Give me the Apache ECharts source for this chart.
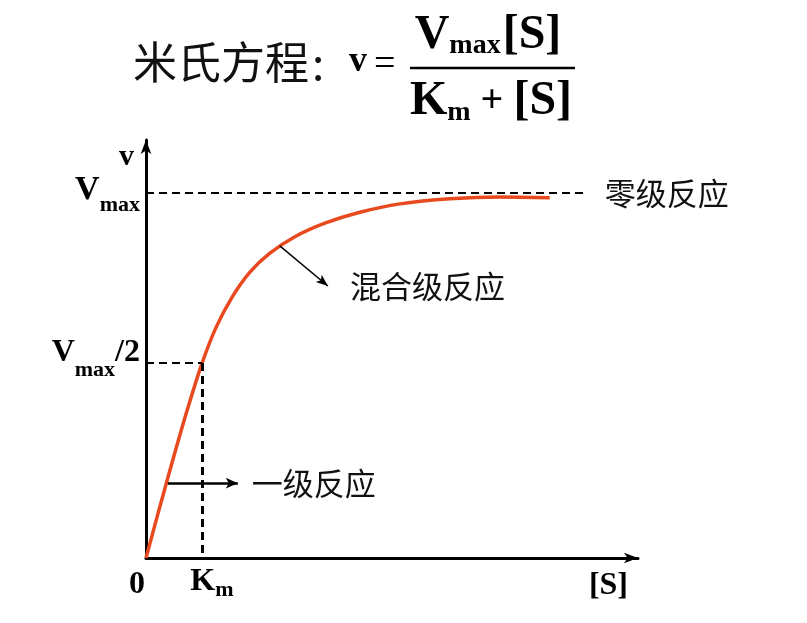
<!DOCTYPE html>
<html>
<head>
<meta charset="utf-8">
<script src="https://cdn.jsdelivr.net/npm/echarts@6/dist/echarts.min.js"></script>
<style>
  html, body { margin: 0; padding: 0; background: #fff; }
  #main { width: 807px; height: 623px; }
</style>
</head>
<body>
<div id="main"></div>
<script>
  // substrate concentration [S] (in Km units) and velocity v (in Vmax units)
  var sVals = [0, 0.25, 0.5, 0.75, 1.0, 1.25, 1.536, 1.857, 2.214, 2.661, 3.196, 3.821, 4.536, 5.429, 6.321, 7.214];
  var vVals = [0, 0.142, 0.28, 0.412, 0.533, 0.631, 0.714, 0.783, 0.835, 0.88, 0.917, 0.947, 0.97, 0.984, 0.989, 0.987];

  var vmax = 1;
  var halfV = 0.534;   // where the Vmax/2 guide is drawn
  var km = 1;
  var sMax = 8.79;
  var vAxisMax = 1.145;
  var vmaxLineEnd = 7.875;

  // annotation arrows [from, to]
  var firstOrderArrow = [[0.39, 0.205], [1.64, 0.205]];
  var mixedArrow = [[2.39, 0.855], [3.25, 0.745]];

  var serif = '"Liberation Serif", "Times New Roman", serif';
  var cjk = '"Noto Sans CJK SC", sans-serif';

  var curve = [];
  for (var i = 0; i < sVals.length; i++) {
    curve.push([sVals[i], vVals[i]]);
  }

  var dashed = { type: [8, 5], color: '#000', width: 2 };

  var myChart = echarts.init(document.getElementById('main'));
  var option = {
    backgroundColor: '#fff',
    animation: false,
    grid: { left: 146, right: 169, top: 140, bottom: 65 },
    xAxis: {
      type: 'value',
      min: 0,
      max: sMax,
      name: '[S]',
      nameLocation: 'end',
      nameGap: -10,
      nameTextStyle: {
        fontFamily: serif, fontWeight: 'bold', fontSize: 32, color: '#000',
        align: 'right', verticalAlign: 'top', padding: [12, 0, 0, 0]
      },
      splitLine: { show: false },
      axisTick: { show: false },
      axisLine: {
        onZero: false,
        symbol: ['none', 'arrow'],
        symbolSize: [8, 14],
        lineStyle: { color: '#000', width: 3 }
      },
      axisLabel: {
        customValues: [0, km],
        margin: 5,
        formatter: function (v) {
          return v === 0 ? '{z|0}' : '{k|K}{m|m}';
        },
        rich: {
          z: { fontFamily: serif, fontWeight: 'bold', fontSize: 32, color: '#000', padding: [6, 18, 0, 0] },
          k: { fontFamily: serif, fontWeight: 'bold', fontSize: 32, color: '#000', padding: [0, 0, 0, 20] },
          m: { fontFamily: serif, fontWeight: 'bold', fontSize: 22, color: '#000', padding: [16, 0, 0, 0] }
        }
      }
    },
    yAxis: {
      type: 'value',
      min: 0,
      max: vAxisMax,
      name: 'v',
      nameLocation: 'end',
      nameGap: -2,
      nameTextStyle: {
        fontFamily: serif, fontWeight: 'bold', fontSize: 30, color: '#000',
        align: 'right', verticalAlign: 'top', padding: [0, 12, 0, 0]
      },
      splitLine: { show: false },
      axisTick: { show: false },
      axisLine: {
        onZero: false,
        symbol: ['none', 'arrow'],
        symbolSize: [8, 14],
        lineStyle: { color: '#000', width: 3 }
      },
      axisLabel: {
        customValues: [halfV, vmax],
        margin: 6,
        formatter: function (v) {
          return v === vmax ? '{v|V}{s|max}' : '{v2|V}{s2|max}{h|/2}';
        },
        rich: {
          v: { fontFamily: serif, fontWeight: 'bold', fontSize: 34, color: '#000', padding: [0, 0, 6, 0] },
          s: { fontFamily: serif, fontWeight: 'bold', fontSize: 22, color: '#000', padding: [24, 0, 0, 0] },
          v2: { fontFamily: serif, fontWeight: 'bold', fontSize: 32, color: '#000', padding: [0, 0, 20, 0] },
          s2: { fontFamily: serif, fontWeight: 'bold', fontSize: 22, color: '#000', padding: [14, 0, 0, 0] },
          h: { fontFamily: serif, fontWeight: 'bold', fontSize: 32, color: '#000', padding: [0, 0, 20, 0] }
        }
      }
    },
    series: [{
      type: 'line',
      data: curve,
      smooth: 0.3,
      showSymbol: false,
      lineStyle: { color: '#E8491E', width: 3.5 },
      markLine: {
        silent: true,
        symbol: ['none', 'none'],
        data: [
          [
            { coord: [0, vmax], lineStyle: dashed,
              label: { show: true, position: 'end', formatter: '零级反应', distance: 18,
                fontFamily: cjk, fontSize: 31, color: '#111' } },
            { coord: [vmaxLineEnd, vmax] }
          ],
          [
            { coord: [0, halfV], lineStyle: dashed, label: { show: false } },
            { coord: [km, halfV] }
          ],
          [
            { coord: [km, halfV], lineStyle: { type: [8, 5], color: '#000', width: 3 }, label: { show: false } },
            { coord: [km, 0] }
          ],
          [
            { coord: firstOrderArrow[0], lineStyle: { type: 'solid', color: '#000', width: 2.5 },
              label: { show: true, position: 'end', formatter: '一级反应', distance: 14,
                fontFamily: cjk, fontSize: 31, color: '#111' } },
            { coord: firstOrderArrow[1], symbol: 'arrow', symbolSize: [8, 12] }
          ],
          [
            { coord: mixedArrow[0], lineStyle: { type: 'solid', color: '#000', width: 1.5 },
              label: { show: true, position: 'end', formatter: '混合级反应', distance: 0,
                align: 'left', verticalAlign: 'middle', padding: [0, 0, 0, 22],
                fontFamily: cjk, fontSize: 31, color: '#111' } },
            { coord: mixedArrow[1], symbol: 'arrow', symbolSize: [7, 12] }
          ]
        ]
      }
    }],
    graphic: [
      {
        type: 'text', left: 133, top: 40,
        style: { text: '米氏方程', fontFamily: cjk, fontSize: 44, fill: '#111' }
      },
      {
        type: 'text', x: 312, y: 63,
        style: { text: ':', fontFamily: cjk, fontSize: 44, fill: '#111', verticalAlign: 'middle' }
      },
      {
        type: 'text', x: 349, y: 62,
        style: { text: 'v', fontFamily: serif, fontWeight: 'bold', fontSize: 36, fill: '#000', verticalAlign: 'middle' }
      },
      {
        type: 'text', x: 374, y: 65,
        style: { text: '=', fontFamily: serif, fontSize: 38, fill: '#000', verticalAlign: 'middle' }
      },
      {
        type: 'line',
        shape: { x1: 410, y1: 68, x2: 575, y2: 68 },
        style: { stroke: '#000', lineWidth: 2.5 }
      },
      {
        type: 'text', x: 488, y: 36,
        style: {
          text: '{a|V}{b|max}{a|[S]}', align: 'center', verticalAlign: 'middle',
          rich: {
            a: { fontFamily: serif, fontWeight: 'bold', fontSize: 48, fill: '#000' },
            b: { fontFamily: serif, fontWeight: 'bold', fontSize: 28, fill: '#000', padding: [20, 2, 0, 0] }
          }
        }
      },
      {
        type: 'text', x: 491, y: 102,
        style: {
          text: '{a|K}{b|m}{c| + }{a|[S]}', align: 'center', verticalAlign: 'middle',
          rich: {
            a: { fontFamily: serif, fontWeight: 'bold', fontSize: 48, fill: '#000' },
            b: { fontFamily: serif, fontWeight: 'bold', fontSize: 28, fill: '#000', padding: [22, 0, 0, 0] },
            c: { fontFamily: serif, fontWeight: 'bold', fontSize: 40, fill: '#000' }
          }
        }
      }
    ]
  };
  myChart.setOption(option);
</script>
</body>
</html>
